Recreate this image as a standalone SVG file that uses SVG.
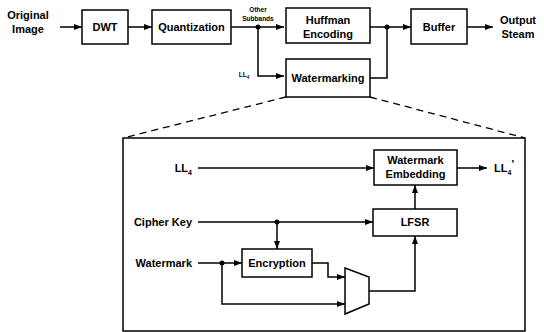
<svg xmlns="http://www.w3.org/2000/svg" width="544" height="332" viewBox="0 0 544 332">
<defs>
<marker id="ah" markerWidth="8" markerHeight="6" refX="8" refY="3" orient="auto" markerUnits="userSpaceOnUse"><path d="M0,0 L8,3 L0,6 z" fill="#000"/></marker>
<style>
.b{fill:#fff;stroke:#000;stroke-width:1.5}
.l{fill:none;stroke:#000;stroke-width:1.5}
.d{fill:none;stroke:#000;stroke-width:1.3;stroke-dasharray:7,5}
.t{font-family:"Liberation Sans",Arial,sans-serif;font-weight:bold;font-size:11px;fill:#000}
.s{font-family:"Liberation Sans",Arial,sans-serif;font-weight:bold;font-size:6.5px;fill:#000}
</style>
</defs>
<rect width="544" height="332" fill="#fff"/>
<g id="connectors">
<line class="l" x1="60" y1="27" x2="82" y2="27" marker-end="url(#ah)"/>
<line class="l" x1="128" y1="27" x2="152" y2="27" marker-end="url(#ah)"/>
<line class="l" x1="231" y1="27" x2="284" y2="27" marker-end="url(#ah)"/>
<polyline class="l" points="258,27 258,76 284,76" marker-end="url(#ah)"/>
<circle cx="258" cy="27" r="2.5"/>
<line class="l" x1="370" y1="27" x2="411" y2="27" marker-end="url(#ah)"/>
<polyline class="l" points="370,78 387,78 387,27"/>
<circle cx="387" cy="27" r="2.5"/>
<line class="l" x1="467" y1="27" x2="493" y2="27" marker-end="url(#ah)"/>
<line class="d" x1="286" y1="97" x2="123" y2="138"/>
<line class="d" x1="370" y1="97" x2="525" y2="138"/>
<line class="l" x1="198" y1="168" x2="374" y2="168" marker-end="url(#ah)"/>
<line class="l" x1="457" y1="168" x2="487" y2="168" marker-end="url(#ah)"/>
<line class="l" x1="415" y1="209" x2="415" y2="185" marker-end="url(#ah)"/>
<line class="l" x1="198" y1="222" x2="373" y2="222" marker-end="url(#ah)"/>
<line class="l" x1="277" y1="222" x2="277" y2="249" marker-end="url(#ah)"/>
<circle cx="277" cy="222" r="2.5"/>
<line class="l" x1="198" y1="263" x2="242" y2="263" marker-end="url(#ah)"/>
<circle cx="222" cy="263" r="2.5"/>
<polyline class="l" points="222,263 222,304 345,304" marker-end="url(#ah)"/>
<polyline class="l" points="312,263 328,263 328,277 345,277" marker-end="url(#ah)"/>
<polyline class="l" points="369,291 415,291 415,236" marker-end="url(#ah)"/>
</g>
<g id="original-image"><text class="t" x="28" y="19" text-anchor="middle">Original</text><text class="t" x="28" y="33" text-anchor="middle">Image</text></g>
<g id="dwt"><rect class="b" x="82" y="10" width="46" height="34"/><text class="t" x="105" y="31" text-anchor="middle">DWT</text></g>
<g id="quantization"><rect class="b" x="152" y="10" width="79" height="34"/><text class="t" x="191.5" y="31" text-anchor="middle">Quantization</text></g>
<g id="other-subbands"><text class="s" x="258" y="12" text-anchor="middle">Other</text><text class="s" x="258" y="21" text-anchor="middle">Subbands</text></g>
<g id="ll4-top"><text class="s" x="244" y="77" text-anchor="middle">LL<tspan font-size="4.5" dy="2">4</tspan></text></g>
<g id="huffman"><rect class="b" x="286" y="8" width="84" height="35"/><text class="t" x="328" y="24" text-anchor="middle">Huffman</text><text class="t" x="328" y="38" text-anchor="middle">Encoding</text></g>
<g id="watermarking"><rect class="b" x="286" y="59" width="84" height="38"/><text class="t" x="328" y="82" text-anchor="middle">Watermarking</text></g>
<g id="buffer"><rect class="b" x="411" y="9" width="56" height="35"/><text class="t" x="439" y="31" text-anchor="middle">Buffer</text></g>
<g id="output-steam"><text class="t" x="518" y="24" text-anchor="middle">Output</text><text class="t" x="518" y="38" text-anchor="middle">Steam</text></g>
<g id="detail-box"><rect class="l" x="123" y="138" width="402" height="193"/></g>
<g id="ll4-in"><text class="t" x="192" y="172" text-anchor="end">LL<tspan font-size="7" dy="3">4</tspan></text></g>
<g id="watermark-embedding"><rect class="b" x="374" y="150" width="83" height="35"/><text class="t" x="415.5" y="164" text-anchor="middle">Watermark</text><text class="t" x="415.5" y="178" text-anchor="middle">Embedding</text></g>
<g id="ll4-out"><text class="t" x="494" y="172">LL<tspan font-size="7" dy="3">4</tspan><tspan dy="-7">’</tspan></text></g>
<g id="cipher-key"><text class="t" x="192" y="226" text-anchor="end">Cipher Key</text></g>
<g id="lfsr"><rect class="b" x="373" y="209" width="84" height="27"/><text class="t" x="415" y="226" text-anchor="middle">LFSR</text></g>
<g id="watermark"><text class="t" x="192" y="267" text-anchor="end">Watermark</text></g>
<g id="encryption"><rect class="b" x="242" y="249" width="70" height="28"/><text class="t" x="277" y="267" text-anchor="middle">Encryption</text></g>
<g id="mux"><polygon class="b" points="345,268 369,277 369,304 345,314"/></g>
</svg>
